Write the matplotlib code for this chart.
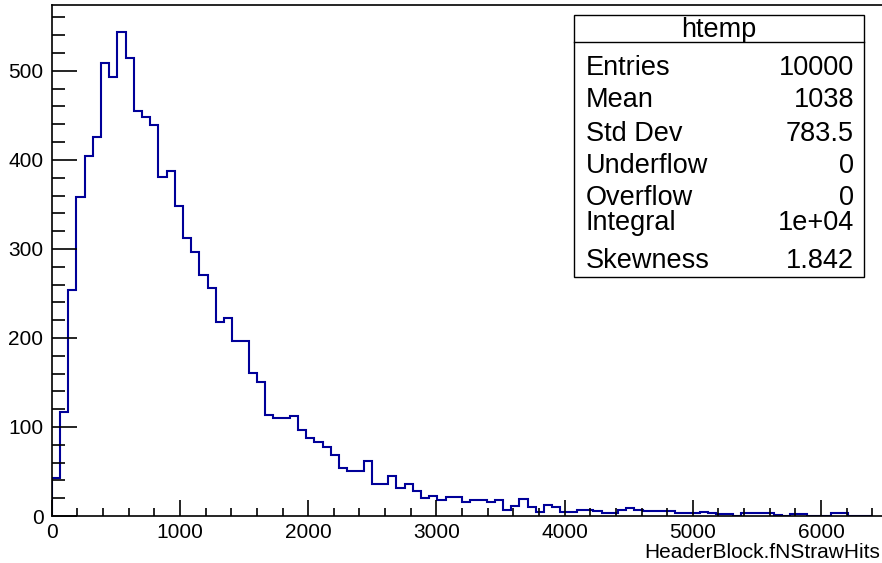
import numpy as np
import matplotlib.pyplot as plt
from matplotlib.ticker import MultipleLocator
from matplotlib.patches import Rectangle
from matplotlib.lines import Line2D

plt.rcParams['font.family'] = ['Liberation Sans', 'DejaVu Sans']

# 100 bins of width 64 over [0, 6400]
bin_edges = np.arange(0, 6401, 64)
counts = [
    43, 117, 254, 358, 404, 426, 509, 493, 544, 514,
    455, 448, 439, 381, 387, 348, 312, 297, 271, 256,
    218, 222, 197, 197, 161, 151, 114, 110, 110, 112,
    97, 88, 83, 78, 68, 54, 51, 51, 62, 36,
    36, 45, 31, 36, 28, 20, 23, 18, 21, 21,
    16, 18, 18, 16, 18, 7, 11, 19, 10, 5,
    12, 10, 5, 5, 7, 7, 6, 3, 3, 7,
    9, 7, 6, 6, 6, 6, 3, 3, 3, 4,
    3, 2, 2, 0, 3, 3, 3, 3, 1, 0,
    2, 2, 0, 0, 0, 3, 3, 0, 0, 0,
]

stat_names = ['Entries', 'Mean', 'Std Dev', 'Underflow', 'Overflow', 'Integral', 'Skewness']
stat_values = ['10000', '1038', '783.5', '0', '0', '1e+04', '1.842']
# baseline of each row, in pixels from the top
stat_rows_px = [75, 107, 141, 173, 205, 230, 268]

W, H = 882, 563
fig = plt.figure(figsize=(W / 100, H / 100), dpi=100)
ax = fig.add_axes([51.8 / W, 47 / H, 6500 * 0.1282 / W, 511 / H])

ax.stairs(counts, bin_edges, color='#000099', linewidth=1.5)

ax.set_xlim(0, 6500)
ax.set_ylim(0, 574)
ax.xaxis.set_major_locator(MultipleLocator(1000))
ax.xaxis.set_minor_locator(MultipleLocator(200))
ax.yaxis.set_major_locator(MultipleLocator(100))
ax.yaxis.set_minor_locator(MultipleLocator(20))

for s in ax.spines.values():
    s.set_linewidth(1.2)
ax.tick_params(axis='both', which='both', direction='in', width=1.2,
               labelsize=15, top=False, right=False)
ax.tick_params(axis='x', which='major', length=11.5, pad=5)
ax.tick_params(axis='x', which='minor', length=5.8)
ax.tick_params(axis='y', which='major', length=18, pad=6)
ax.tick_params(axis='y', which='minor', length=9)

fig.text(880 / W, 1 - 558 / H, 'HeaderBlock.fNStrawHits', fontsize=15,
         ha='right', va='baseline')

# stats box
x0, x1 = 574 / W, 864 / W
ytop, ybot = 1 - 15 / H, 1 - 277 / H
fig.add_artist(Rectangle((x0, ybot), x1 - x0, ytop - ybot, transform=fig.transFigure,
                         facecolor='white', edgecolor='black', linewidth=1.0))
ysep = 1 - 42 / H
fig.add_artist(Line2D([x0, x1], [ysep, ysep], transform=fig.transFigure,
                      color='black', linewidth=1.0))
fig.text((x0 + x1) / 2, 1 - 37 / H, 'htemp', fontsize=19.5, ha='center', va='baseline')
for name, val, ypx in zip(stat_names, stat_values, stat_rows_px):
    fig.text(586 / W, 1 - ypx / H, name, fontsize=19.5, ha='left', va='baseline')
    fig.text(854 / W, 1 - ypx / H, val, fontsize=19.5, ha='right', va='baseline')

fig.savefig('out.png', dpi=100)
